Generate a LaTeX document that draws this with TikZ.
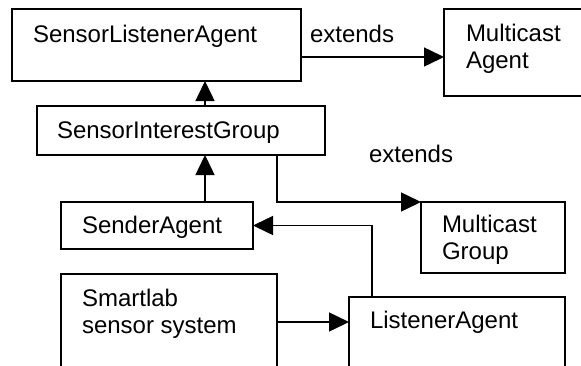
\documentclass[tikz,border=0pt]{standalone}
\usepackage{fontspec}
\setmainfont{Liberation Sans}
\usetikzlibrary{arrows.meta}

\tikzset{
  box/.style={draw, line width=1.5pt, rectangle, inner sep=0pt, outer sep=0pt, anchor=north west},
  lbl/.style={inner sep=0pt, outer sep=0pt, anchor=base west, align=left,
              font=\fontsize{24}{26.5}\selectfont},
  conn/.style={line width=1.5pt},
  arr/.style={conn, -{Triangle[length=20pt, width=19pt]}}
}

\begin{document}
\begin{tikzpicture}[x=1pt, y=-1pt]
  \useasboundingbox (0,0) rectangle (581,365);
  \clip (0,0) rectangle (581,365);

  % class boxes
  \node[box, minimum width=289pt, minimum height=72pt] (SLA) at (12,9) {};
  \node[box, minimum width=160pt, minimum height=87pt] (MA) at (444,9) {};
  \node[box, minimum width=288pt, minimum height=49pt] (SIG) at (37,106) {};
  \node[box, minimum width=192pt, minimum height=47pt] (SA) at (61,202) {};
  \node[box, minimum width=144pt, minimum height=71pt] (MG) at (421,202) {};
  \node[box, minimum width=216pt, minimum height=130pt] (SS) at (61,274) {};
  \node[box, minimum width=216pt, minimum height=110pt] (LA) at (349,297) {};

  % box titles (multi-line titles are placed by their last baseline)
  \node[lbl] (tSLA) at (33,42) {SensorListenerAgent};
  \node[lbl] (tMA) at (466,68) {Multicast\\Agent};
  \node[lbl] (tSIG) at (57,138) {SensorInterestGroup};
  \node[lbl] (tSA) at (82,233) {SenderAgent};
  \node[lbl] (tMG) at (442,259) {Multicast\\Group};
  \node[lbl] (tSS) at (82,333) {Smartlab\\sensor system};
  \node[lbl] (tLA) at (370,328) {ListenerAgent};

  % relation labels
  \node[lbl] (ext1) at (310,42) {extends};
  \node[lbl] (ext2) at (369,162) {extends};

  % connectors
  \draw[arr] (SLA.east |- 0,57) -- (MA.west |- 0,57);
  \draw[arr] (SIG.north -| 205,0) -- (SLA.south -| 205,0);
  \draw[arr] (SA.north -| 205,0) -- (SIG.south -| 205,0);
  \draw[arr] (SIG.south -| 277,0) |- (MG.north west);
  \draw[arr] (LA.north -| 372,0) |- (SA.east);
  \draw[arr] (SS.east |- 0,322) -- (LA.west |- 0,322);
\end{tikzpicture}
\end{document}
